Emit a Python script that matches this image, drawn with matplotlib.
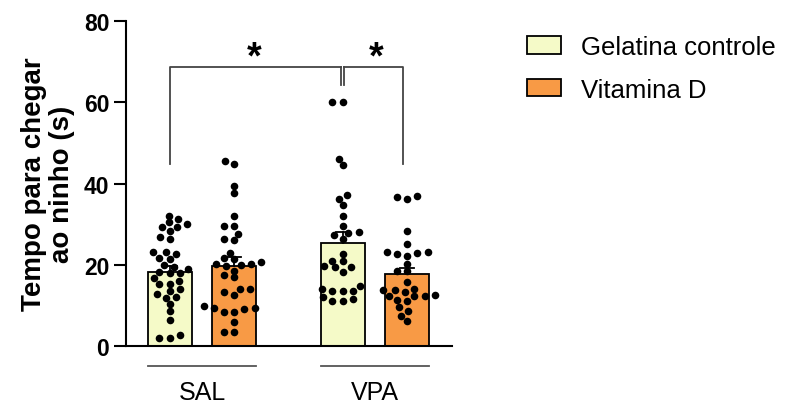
import numpy as np
import matplotlib.pyplot as plt
from matplotlib.patches import Patch

plt.rcParams['font.family'] = ['Liberation Sans', 'DejaVu Sans']

# data
groups = ["SAL", "VPA"]
treatments = ["Gelatina controle", "Vitamina D"]
colors = ["#F5FAC8", "#F89A45"]
means = [[18.2, 19.7], [25.4, 17.7]]
sems = [[1.5, 2.2], [2.6, 1.5]]

sal_gel = [32.1, 29.4, 23.1, 19.4, 17.9, 16.1, 11.8,
           30.5, 29.3, 28.2, 26.9, 21.8, 20.0, 18.2, 13.5, 12.1,
           31.3, 30.0, 26.4, 22.7, 21.4, 19.0, 16.7, 15.3, 14.0, 12.8, 10.3, 8.7, 6.4,
           23.1, 17.9, 15.3, 2.1, 2.7, 2.1]
sal_vitd = [45.6, 44.8, 39.5, 37.6, 32.1, 29.6, 29.5, 27.6, 26.1, 26.4, 22.9,
            21.6, 21.4, 20.8, 20.2, 20.2, 19.9, 19.7, 18.6, 17.5, 16.9,
            14.0, 13.2, 12.6, 14.0, 9.9, 9.1, 9.3, 8.5, 9.3, 8.5, 6.0, 3.5, 3.5]
vpa_gel = [60.0, 60.0, 46.1, 44.6, 36.2, 37.2, 34.7, 32.1, 29.6, 28.0, 27.8, 27.3,
           26.4, 22.7, 19.8, 21.0, 19.4, 21.0, 19.4, 18.3,
           14.9, 13.6, 11.2, 14.0, 13.6, 13.6, 12.0, 11.2, 11.6]
vpa_vitd = [37.0, 36.8, 36.2, 28.4, 25.1, 22.8, 22.2, 22.7, 23.1, 23.1, 20.2,
            18.4, 18.5, 15.7, 13.8, 12.4, 12.6, 13.2, 13.8, 14.0, 12.4, 12.4,
            11.2, 11.3, 8.7, 9.7, 7.5, 6.2]
points = [[sal_gel, sal_vitd], [vpa_gel, vpa_vitd]]

group_pos = [0.0, 2.68]
bar_w = 0.68

fig = plt.figure(figsize=(7.87, 4.06), dpi=100)
ax = fig.add_axes([0.160, 0.145, 0.414, 0.801])
ax.set_xlim(-0.68, 4.37)
ax.set_ylim(0, 80)

# pixels per data unit (for the swarm layout)
ppx = 0.414 * 787 / (4.37 + 0.68)
ppy = 0.801 * 406 / 80


def swarm(vals, dx=10.5, dy=6.5):
    vals = np.asarray(vals)
    xs = np.zeros(len(vals))
    placed = []
    offsets = sorted(np.arange(-30, 30.5, 0.5), key=abs)
    for i in np.argsort(vals):
        y = vals[i] * ppy
        for off in offsets:
            if all(((off - px) / dx) ** 2 + ((y - py) / dy) ** 2 >= 1 for px, py in placed):
                break
        placed.append((off, y))
        xs[i] = off / ppx
    return xs


centers = {}
for g, gp in enumerate(group_pos):
    for t in range(2):
        x = gp + t
        centers[(g, t)] = x
        ax.bar(x, means[g][t], width=bar_w, color=colors[t], edgecolor="black",
               linewidth=1.3, zorder=2)
        ax.plot([x, x], [means[g][t], means[g][t] + sems[g][t]], color="black", lw=1.3, zorder=3)
        ax.plot([x - 0.11, x + 0.11], [means[g][t] + sems[g][t]] * 2, color="black", lw=1.3, zorder=3)
        v = points[g][t]
        ax.scatter(x + swarm(v), v, s=30, color="black", zorder=4, linewidths=0)

# axes styling
for s in ["top", "right"]:
    ax.spines[s].set_visible(False)
ax.spines["left"].set_linewidth(1.5)
ax.spines["bottom"].set_linewidth(1.5)
ax.set_xticks([])
ax.set_yticks([0, 20, 40, 60, 80])
ax.tick_params(axis="y", length=9, width=1.5, labelsize=16.5, pad=3)
for lbl in ax.get_yticklabels():
    lbl.set_fontweight("bold")
ax.set_ylabel("Tempo para chegar\nao ninho (s)", fontsize=20, fontweight="bold",
              linespacing=1.1, labelpad=6)

# significance brackets
bc = "#444444"
yb, ylo = 68.7, 44.8
x1, x2, x3 = centers[(0, 0)], centers[(1, 0)], centers[(1, 1)]
ax.plot([x1, x1, x2 - 0.02], [ylo, yb, yb], color=bc, lw=1.3, clip_on=False)
ax.plot([x2 + 0.02, x3 - 0.06, x3 - 0.06], [yb, yb, ylo], color=bc, lw=1.3, clip_on=False)
ax.plot([x2 - 0.02, x2 - 0.02], [yb, 64.3], color=bc, lw=1.3)
ax.plot([x2 + 0.02, x2 + 0.02], [yb, 64.3], color=bc, lw=1.3)
ax.text((x1 + x2) / 2 - 0.03, 71.0, "*", fontsize=27, fontweight="bold", ha="center", va="center")
ax.text((x2 + x3) / 2 + 0.02, 71.0, "*", fontsize=27, fontweight="bold", ha="center", va="center")

# group labels under the axis
for g, gp in enumerate(group_pos):
    c = gp + 0.5
    ax.plot([c - 0.84, c + 0.84], [-5.0, -5.0], color="#555555", lw=1.3, clip_on=False)
    ax.text(c, -11.2, groups[g], fontsize=18, ha="center", va="center")

handles = [Patch(facecolor=colors[t], edgecolor="black", linewidth=1.3, label=treatments[t])
           for t in range(2)]
fig.legend(handles=handles, loc="upper left", bbox_to_anchor=(0.64, 0.968), frameon=False,
           fontsize=18.5, handlelength=1.35, handleheight=0.68, handletextpad=0.75, labelspacing=0.72)

fig.savefig("out.png", dpi=100)
